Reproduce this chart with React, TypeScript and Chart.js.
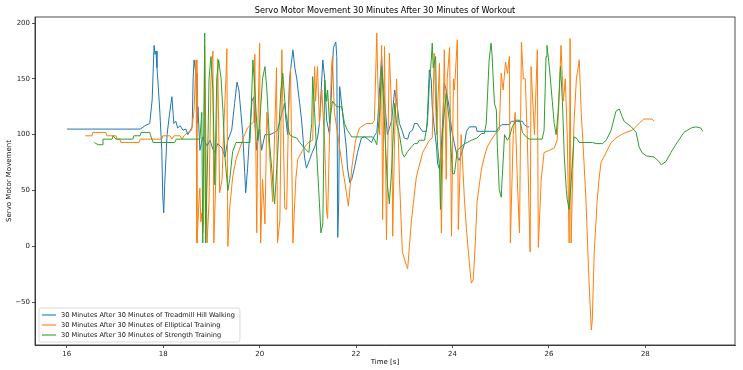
import React, { useEffect, useRef } from "react";
import { Chart, registerables } from "chart.js";

Chart.register(...registerables);

const FONT = "'DejaVu Sans', 'Liberation Sans', sans-serif";

const chartTitle = "Servo Motor Movement 30 Minutes After 30 Minutes of Workout";
const xLabel = "Time [s]";
const yLabel = "Servo Motor Movement";
const xTicks = [16, 18, 20, 22, 24, 26, 28];
const yTicks = [-50, 0, 50, 100, 150, 200];
const xRange = [15.34, 29.86];
const yRange = [-88.4, 205.4];

const seriesNames = [
  "30 Minutes After 30 Minutes of Treadmill Hill Walking",
  "30 Minutes After 30 Minutes of Elliptical Training",
  "30 Minutes After 30 Minutes of Strength Training",
];
const seriesColors = ["#1f77b4", "#ff7f0e", "#2ca02c"];

// Treadmill hill walking
const treadmillTime = [
  16.00, 17.52, 17.56, 17.62, 17.72, 17.77, 17.81, 17.83, 17.85, 17.87,
  17.89, 17.93, 17.97, 17.99, 18.01, 18.03, 18.08, 18.12, 18.16, 18.18,
  18.22, 18.26, 18.30, 18.35, 18.41, 18.47, 18.51, 18.55, 18.60, 18.62,
  18.64, 18.66, 18.68, 18.70, 18.72, 18.76, 18.82, 18.91, 18.97, 19.03,
  19.07, 19.13, 19.22, 19.28, 19.34, 19.42, 19.48, 19.53, 19.57, 19.61,
  19.65, 19.69, 19.71, 19.75, 19.80, 19.84, 19.88, 19.90, 19.94, 19.98,
  20.00, 20.04, 20.11, 20.21, 20.31, 20.37, 20.46, 20.52, 20.54, 20.58,
  20.62, 20.69, 20.73, 20.77, 20.83, 20.87, 20.93, 20.97, 21.04, 21.08,
  21.14, 21.20, 21.24, 21.31, 21.35, 21.39, 21.45, 21.49, 21.53, 21.58,
  21.60, 21.62, 21.64, 21.66, 21.72, 21.80, 21.82, 21.87, 21.91, 21.97,
  22.03, 22.11, 22.18, 22.24, 22.32, 22.38, 22.43, 22.45, 22.49, 22.53,
  22.55, 22.59, 22.65, 22.74, 22.80, 22.84, 22.90, 22.96, 23.00, 23.07,
  23.11, 23.17, 23.21, 23.27, 23.31, 23.38, 23.46, 23.48, 23.52, 23.56,
  23.58, 23.62, 23.67, 23.69, 23.73, 23.77, 23.79, 23.83, 23.87, 23.94,
  23.98, 24.04, 24.10, 24.14, 24.18, 24.25, 24.29, 24.35, 24.49, 24.51,
  24.66, 24.76, 24.91, 24.97, 25.03, 25.18, 25.22, 25.45, 25.49, 25.55, 25.59,
];
const treadmillValue = [
  105, 105, 106, 108, 110, 131, 180, 172, 175, 160,
  148, 120, 86, 45, 30, 55, 100, 115, 128, 134,
  110, 112, 106, 108, 104, 105, 100, 103, 107, 150,
  167, 160, 155, 110, 125, 86, 98, 90, 95, 87,
  84, 92, 88, 80, 95, 104, 128, 147, 140, 120,
  100, 66, 48, 70, 107, 130, 134, 110, 86, 100,
  105, 86, 100, 100, 102, 104, 119, 128, 115, 100,
  150, 176, 160, 150, 128, 113, 80, 70, 78, 83,
  89, 97, 110, 167, 150, 113, 100, 140, 178, 183,
  170, 8, 40, 143, 120, 87, 71, 57, 60, 71,
  84, 97, 98, 96, 93, 99, 102, 113, 143, 170,
  152, 131, 100, 113, 140, 130, 110, 103, 97, 96,
  102, 104, 110, 110, 107, 103, 103, 116, 158, 149,
  125, 107, 89, 74, 69, 90, 107, 146, 140, 122,
  105, 92, 80, 77, 82, 92, 103, 107, 107, 103,
  103, 103, 103, 107, 109, 109, 112, 112, 109, 107, 107,
];

// Elliptical training
const ellipticalTime = [
  16.38, 16.52, 16.54, 16.81, 16.83, 17.02, 17.04, 17.10, 17.12, 17.50,
  17.52, 17.97, 17.99, 18.14, 18.18, 18.22, 18.35, 18.39, 18.43, 18.51,
  18.59, 18.64, 18.68, 18.70, 18.74, 18.76, 18.78, 18.80, 18.82, 18.84,
  18.86, 18.91, 18.95, 18.99, 19.03, 19.05, 19.09, 19.13, 19.17, 19.22,
  19.26, 19.30, 19.32, 19.34, 19.38, 19.44, 19.51, 19.59, 19.67, 19.75,
  19.84, 19.88, 19.90, 19.94, 19.96, 20.00, 20.02, 20.06, 20.11, 20.15,
  20.21, 20.27, 20.31, 20.35, 20.37, 20.42, 20.46, 20.52, 20.56, 20.60,
  20.64, 20.69, 20.75, 20.79, 20.89, 20.97, 21.04, 21.10, 21.14, 21.16,
  21.20, 21.24, 21.29, 21.35, 21.39, 21.41, 21.45, 21.49, 21.51, 21.55,
  21.62, 21.72, 21.80, 21.84, 21.91, 21.99, 22.07, 22.14, 22.22, 22.34,
  22.38, 22.43, 22.45, 22.49, 22.53, 22.55, 22.59, 22.63, 22.69, 22.74,
  22.76, 22.80, 22.84, 22.90, 22.96, 23.05, 23.07, 23.15, 23.25, 23.38,
  23.52, 23.58, 23.62, 23.67, 23.73, 23.77, 23.83, 23.87, 23.89, 23.94,
  23.98, 24.02, 24.04, 24.10, 24.12, 24.18, 24.25, 24.29, 24.35, 24.39,
  24.43, 24.47, 24.51, 24.60, 24.66, 24.72, 24.80, 24.91, 24.97, 25.01,
  25.05, 25.10, 25.14, 25.18, 25.20, 25.26, 25.30, 25.35, 25.39, 25.43,
  25.47, 25.51, 25.55, 25.61, 25.63, 25.70, 25.76, 25.78, 25.84, 25.90,
  26.01, 26.11, 26.17, 26.21, 26.25, 26.30, 26.34, 26.38, 26.42, 26.44,
  26.46, 26.52, 26.57, 26.63, 26.67, 26.71, 26.77, 26.83, 26.88, 26.90,
  26.94, 27.00, 27.04, 27.08, 27.14, 27.29, 27.39, 27.50, 27.60, 27.73,
  27.87, 27.97, 28.14, 28.18,
];
const ellipticalValue = [
  99, 99, 102, 102, 99, 99, 96, 96, 93, 93,
  96, 96, 99, 99, 96, 99, 99, 96, 99, 102,
  104, 122, 167, 3, 40, 52, 22, 30, 12, 25,
  180, 3, 40, 150, 175, 3, 60, 168, 48, 60,
  110, 150, 177, 0, 35, 62, 78, 88, 98, 106,
  110, 112, 172, 12, 100, 182, 3, 60, 20, 120,
  80, 40, 100, 160, 3, 24, 176, 34, 33, 120,
  160, 3, 60, 78, 86, 91, 94, 95, 161, 130,
  161, 110, 140, 90, 30, 25, 100, 161, 170, 120,
  100, 70, 48, 36, 70, 95, 106, 108, 110, 110,
  113, 191, 150, 100, 180, 24, 179, 6, 173, 120,
  9, 100, 150, 60, -5, -18, -20, 24, 62, 84,
  95, 97, 173, 100, 164, 12, 176, 60, 150, 178,
  9, 150, 140, 185, 15, 100, 40, 15, -15, -33,
  -30, 0, 40, 69, 80, 89, 95, 102, 104, 155,
  140, 165, 155, 170, 3, 100, 120, 53, 12, 183,
  150, 150, 100, -5, 161, 100, 176, -1, 60, 84,
  86, 88, 95, 130, 180, 130, 150, 100, 3, 186,
  3, 110, 150, 167, 120, 90, 40, -30, -75, -66,
  -5, 40, 60, 75, 80, 93, 97, 100, 102, 104,
  110, 114, 114, 112,
];

// Strength training
const strengthTime = [
  16.57, 16.65, 16.73, 16.75, 16.94, 16.96, 17.02, 17.37, 17.39, 17.52,
  17.54, 17.72, 17.74, 17.79, 18.24, 18.27, 18.76, 18.80, 18.82, 18.86,
  18.88, 18.93, 18.95, 18.99, 19.03, 19.07, 19.11, 19.15, 19.20, 19.24,
  19.28, 19.34, 19.38, 19.44, 19.51, 19.69, 19.80, 19.86, 19.90, 19.96,
  20.00, 20.06, 20.11, 20.15, 20.21, 20.25, 20.31, 20.37, 20.44, 20.48,
  20.54, 20.62, 20.69, 20.77, 20.83, 20.93, 21.02, 21.08, 21.10, 21.14,
  21.20, 21.24, 21.27, 21.31, 21.35, 21.39, 21.41, 21.45, 21.51, 21.60,
  21.66, 21.70, 21.76, 21.82, 21.91, 22.34, 22.38, 22.43, 22.49, 22.53,
  22.57, 22.61, 22.65, 22.69, 22.74, 22.80, 22.84, 22.90, 22.96, 23.00,
  23.07, 23.15, 23.21, 23.27, 23.31, 23.42, 23.48, 23.52, 23.56, 23.58,
  23.60, 23.65, 23.67, 23.69, 23.73, 23.75, 23.79, 23.83, 23.87, 23.94,
  23.98, 24.00, 24.04, 24.10, 24.18, 24.25, 24.31, 24.39, 24.51, 24.60,
  24.66, 24.70, 24.76, 24.80, 24.82, 24.87, 24.91, 24.93, 24.97, 25.01,
  25.03, 25.08, 25.14, 25.18, 25.24, 25.32, 25.39, 25.43, 25.45, 25.53,
  25.59, 25.86, 25.90, 25.94, 25.96, 26.01, 26.07, 26.11, 26.15, 26.19,
  26.24, 26.28, 26.32, 26.36, 26.38, 26.42, 26.48, 26.52, 26.57, 26.63,
  26.90, 26.98, 27.11, 27.19, 27.29, 27.39, 27.46, 27.52, 27.56, 27.71,
  27.81, 27.87, 27.93, 28.02, 28.18, 28.28, 28.33, 28.43, 28.53, 28.66,
  28.80, 28.95, 29.05, 29.15, 29.19,
];
const strengthValue = [
  93, 91, 91, 96, 96, 99, 96, 96, 99, 99,
  102, 102, 99, 93, 93, 96, 96, 120, 3, 191,
  3, 100, 150, 170, 140, 55, 150, 167, 150, 120,
  80, 50, 60, 85, 93, 93, 93, 167, 140, 95,
  110, 150, 161, 140, 90, 70, 38, 80, 140, 155,
  120, 100, 98, 97, 93, 88, 84, 110, 152, 120,
  70, 39, 12, 20, 149, 130, 140, 110, 130, 125,
  125, 125, 110, 104, 98, 98, 96, 91, 120, 161,
  130, 90, 56, 38, 70, 128, 110, 100, 83, 80,
  85, 89, 92, 92, 95, 95, 110, 146, 167, 182,
  160, 170, 120, 90, 71, 33, 100, 120, 137, 110,
  80, 65, 65, 86, 89, 92, 93, 95, 97, 101,
  101, 110, 167, 182, 172, 128, 122, 90, 51, 44,
  60, 100, 95, 98, 107, 113, 113, 107, 102, 98,
  96, 96, 104, 170, 180, 160, 130, 110, 100, 120,
  161, 130, 80, 51, 42, 33, 70, 98, 97, 93,
  93, 92, 92, 95, 104, 121, 123, 116, 112, 107,
  102, 89, 84, 81, 80, 76, 73, 76, 84, 93,
  102, 106, 107, 106, 103,
];

const seriesTimes = [treadmillTime, ellipticalTime, strengthTime];
const seriesValues = [treadmillValue, ellipticalValue, strengthValue];

function toPoints(ts: number[], vs: number[]) {
  const n = Math.min(ts.length, vs.length);
  const out: { x: number; y: number }[] = [];
  for (let i = 0; i < n; i++) out.push({ x: ts[i], y: vs[i] });
  return out;
}

const decorPlugin = {
  id: "decor",
  afterDatasetsDraw(chart: any) {
    const { ctx, chartArea: a } = chart;
    ctx.save();
    ctx.strokeStyle = "#222";
    ctx.lineWidth = 0.8;
    ctx.strokeRect(a.left, a.top, a.right - a.left, a.bottom - a.top);
    ctx.restore();
  },
  afterDraw(chart: any) {
    const { ctx, chartArea: a } = chart;
    ctx.save();
    // title
    ctx.fillStyle = "#000";
    ctx.font = `8.2px ${FONT}`;
    ctx.textAlign = "center";
    ctx.textBaseline = "middle";
    ctx.fillText(chartTitle, (a.left + a.right) / 2, a.top - 6.5);

    // legend
    ctx.font = `6.6px ${FONT}`;
    let maxW = 0;
    seriesNames.forEach((n) => (maxW = Math.max(maxW, ctx.measureText(n).width)));
    const left = a.left + 4;
    const rowH = 10;
    const h = rowH * seriesNames.length + 4;
    const top = a.bottom - 3 - h;
    const textX = left + 22;
    const w = textX - left + maxW + 5;
    ctx.beginPath();
    const r = 2;
    ctx.moveTo(left + r, top);
    ctx.lineTo(left + w - r, top);
    ctx.quadraticCurveTo(left + w, top, left + w, top + r);
    ctx.lineTo(left + w, top + h - r);
    ctx.quadraticCurveTo(left + w, top + h, left + w - r, top + h);
    ctx.lineTo(left + r, top + h);
    ctx.quadraticCurveTo(left, top + h, left, top + h - r);
    ctx.lineTo(left, top + r);
    ctx.quadraticCurveTo(left, top, left + r, top);
    ctx.closePath();
    ctx.fillStyle = "rgba(255,255,255,0.8)";
    ctx.fill();
    ctx.strokeStyle = "#d0d0d0";
    ctx.lineWidth = 0.8;
    ctx.stroke();
    ctx.textAlign = "left";
    ctx.textBaseline = "middle";
    seriesNames.forEach((n, i) => {
      const y = top + 7 + i * rowH;
      ctx.strokeStyle = seriesColors[i];
      ctx.lineWidth = 1.1;
      ctx.beginPath();
      ctx.moveTo(left + 3, y);
      ctx.lineTo(left + 17, y);
      ctx.stroke();
      ctx.fillStyle = "#111";
      ctx.fillText(n, textX, y + 0.5);
    });
    ctx.restore();
  },
};

export default function App() {
  const ref = useRef<HTMLCanvasElement | null>(null);
  useEffect(() => {
    if (!ref.current) return;
    Chart.defaults.font.family = FONT;
    const datasets = seriesNames.map((name, i) => ({
      label: name,
      data: toPoints(seriesTimes[i], seriesValues[i]),
      borderColor: seriesColors[i],
      backgroundColor: seriesColors[i],
      borderWidth: 1,
      pointRadius: 0,
      tension: 0,
      fill: false,
      order: seriesNames.length - 1 - i,
    }));
    const chart = new Chart(ref.current, {
      type: "line",
      data: { datasets },
      options: {
        animation: false,
        responsive: false,
        devicePixelRatio: 1,
        layout: { padding: { top: 17, right: 8, left: 0, bottom: 0 } },
        plugins: { legend: { display: false }, tooltip: { enabled: false }, title: { display: false } },
        scales: {
          x: {
            type: "linear",
            min: xRange[0],
            max: xRange[1],
            afterBuildTicks: (s: any) => {
              s.ticks = xTicks.map((v) => ({ value: v }));
            },
            afterFit: (s: any) => {
              s.height = 25;
            },
            ticks: { font: { size: 7 }, color: "#222", padding: 2, maxRotation: 0, autoSkip: false },
            grid: { display: true, drawOnChartArea: false, drawTicks: true, tickLength: 3, color: "#222", lineWidth: 0.8 },
            border: { display: true, color: "#222", width: 0.8 },
            title: { display: true, text: xLabel, font: { size: 7 }, color: "#111", padding: { top: 0, bottom: 4 } },
          },
          y: {
            type: "linear",
            min: yRange[0],
            max: yRange[1],
            afterBuildTicks: (s: any) => {
              s.ticks = yTicks.map((v) => ({ value: v }));
            },
            afterFit: (s: any) => {
              s.width = 35;
            },
            ticks: { font: { size: 7 }, color: "#222", padding: 2, callback: (v: any) => (v < 0 ? "\u2212" + Math.abs(v) : String(v)) },
            grid: { display: true, drawOnChartArea: false, drawTicks: true, tickLength: 3, color: "#222", lineWidth: 0.8 },
            border: { display: true, color: "#222", width: 0.8 },
            title: { display: true, text: yLabel, font: { size: 7 }, color: "#111", padding: { top: 5, bottom: 0 } },
          },
        },
      },
      plugins: [decorPlugin],
    } as any);
    return () => chart.destroy();
  }, []);
  return (
    <div style={{ position: "fixed", left: 0, top: 0, width: 743, height: 370, background: "#fff" }}>
      <canvas ref={ref} width={743} height={370} style={{ display: "block" }} />
    </div>
  );
}
